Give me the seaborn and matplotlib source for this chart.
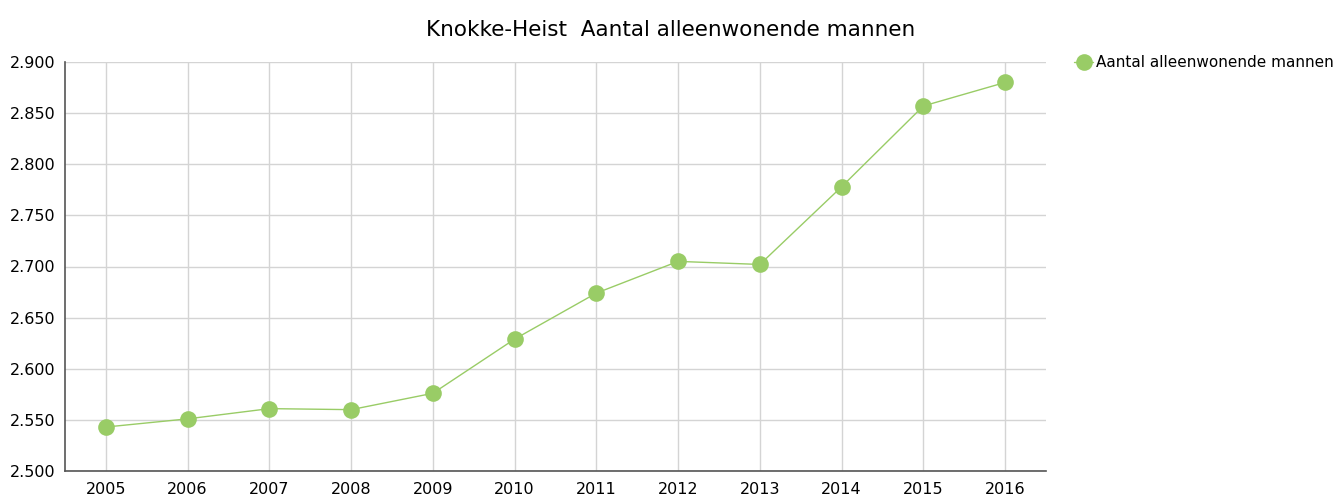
import pandas as pd
import matplotlib.pyplot as plt
import seaborn as sns
from matplotlib.ticker import FuncFormatter

years = [2005, 2006, 2007, 2008, 2009, 2010, 2011, 2012, 2013, 2014, 2015, 2016]
values = [2543, 2551, 2561, 2560, 2576, 2629, 2674, 2705, 2702, 2778, 2857, 2880]
series_name = 'Aantal alleenwonende mannen'
title = 'Knokke-Heist  Aantal alleenwonende mannen'

df = pd.DataFrame({'Jaar': years, 'Aantal': values})

sns.set_style('white')
plt.rcParams['font.family'] = ['DejaVu Sans']
plt.rcParams['text.color'] = 'black'
plt.rcParams['xtick.color'] = 'black'
plt.rcParams['ytick.color'] = 'black'

fig = plt.figure(figsize=(13.42, 4.99), dpi=100)
ax = fig.add_axes([65 / 1342, 28 / 499, 981 / 1342, 409 / 499])

green = '#99cc66'
sns.lineplot(x='Jaar', y='Aantal', data=df, ax=ax, color=green, linewidth=1,
             marker='o', markersize=12, markeredgewidth=0, label=series_name)

ax.set_xlim(2004.5, 2016.5)
ax.set_ylim(2500, 2900)
ax.set_xticks(years)
ax.set_yticks(range(2500, 2901, 50))
ax.yaxis.set_major_formatter(FuncFormatter(lambda v, p: f'{v / 1000:.3f}'))
ax.grid(True, color='#d4d4d4', linewidth=1)
ax.set_axisbelow(True)
for s in ['top', 'right']:
    ax.spines[s].set_visible(False)
for s in ['left', 'bottom']:
    ax.spines[s].set_color('#555555')
    ax.spines[s].set_linewidth(1.2)
ax.tick_params(axis='x', length=5, color='#d4d4d4', labelsize=11.5, pad=3)
ax.tick_params(axis='y', length=0, labelsize=11.5, pad=7)
ax.set_xlabel('')
ax.set_ylabel('')

fig.text(0.5, 0.94, title, ha='center', va='center', fontsize=15.5)
ax.legend(loc='upper left', bbox_to_anchor=(1.029, 1.016), frameon=False,
          fontsize=11, handlelength=1.2, handletextpad=0.2, borderaxespad=0,
          borderpad=0)

fig.savefig('out.png', dpi=100)
